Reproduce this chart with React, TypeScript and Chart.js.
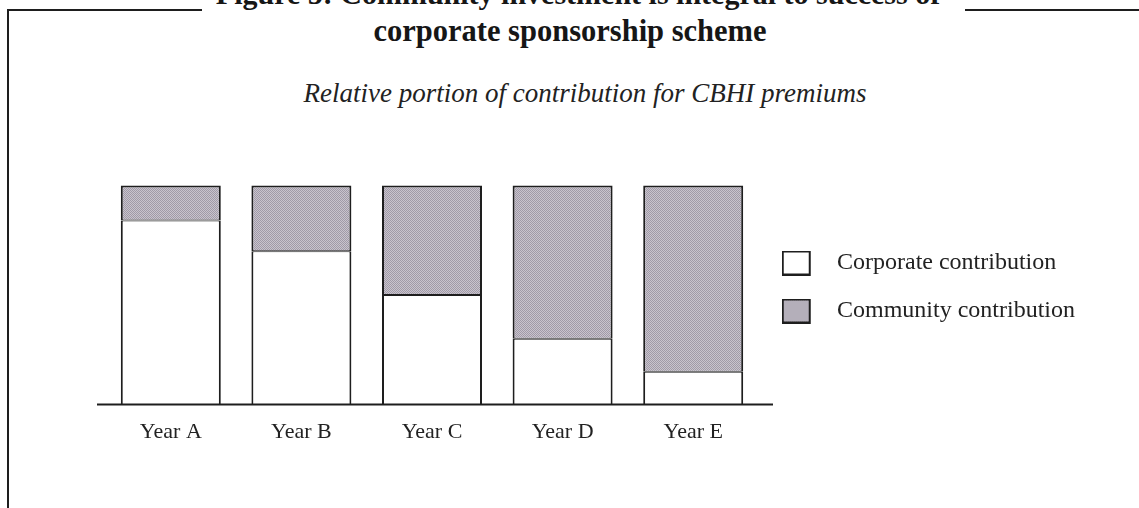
import React, { useEffect, useRef } from 'react';
import { Chart, registerables } from 'chart.js';

Chart.register(...registerables);

// ---- data ----
const categories = ['Year A', 'Year B', 'Year C', 'Year D', 'Year E'];
const corporateShare = [84, 70, 50, 30, 15];
const communityShare = [16, 30, 50, 70, 85];
const seriesLabels = ['Corporate contribution', 'Community contribution'];
const titleLines = [
  'Figure 5: Community investment is integral to success of',
  'corporate sponsorship scheme',
];
const subtitleText = 'Relative portion of contribution for CBHI premiums';
const Y_MAX = 107.3;

// ---- layout / style ----
const W = 1139;
const H = 508;
const INK = '#1e1e1e';
const SERIF = '"Liberation Serif", "Times New Roman", serif';
const LEGEND_FONT = 24;
const LEGEND_PAD = 24;
const LEGEND_BOXW = 42.5;
const AREA_LEFT = 105.5;
const AREA_RIGHT = 758.5;

function makePatternCanvas(): HTMLCanvasElement {
  const c = document.createElement('canvas');
  c.width = 2;
  c.height = 2;
  const g = c.getContext('2d')!;
  g.fillStyle = '#c9c4cd';
  g.fillRect(0, 0, 2, 2);
  g.fillStyle = '#a09aa7';
  g.fillRect(0, 0, 1, 1);
  g.fillRect(1, 1, 1, 1);
  return c;
}

function makeSwatch(patternCanvas: HTMLCanvasElement | null): HTMLCanvasElement {
  const c = document.createElement('canvas');
  c.width = 44;
  c.height = 25;
  const g = c.getContext('2d')!;
  g.fillStyle = INK;
  g.fillRect(0, 0, 29, 25);
  if (patternCanvas) {
    g.fillStyle = g.createPattern(patternCanvas, 'repeat') as CanvasPattern;
  } else {
    g.fillStyle = '#ffffff';
  }
  g.fillRect(2, 2, 25, 21);
  return c;
}

const baseLinePlugin = {
  id: 'baseLine',
  afterDatasetsDraw(chart: any) {
    const { ctx, chartArea, scales } = chart;
    const y = scales.y.getPixelForValue(0);
    ctx.save();
    ctx.strokeStyle = INK;
    ctx.lineWidth = 2;
    ctx.beginPath();
    ctx.moveTo(chartArea.left - 8.5, y);
    ctx.lineTo(chartArea.right + 14.5, y);
    ctx.stroke();
    ctx.restore();
  },
};

export default function App() {
  const canvasRef = useRef<HTMLCanvasElement | null>(null);

  useEffect(() => {
    const canvas = canvasRef.current;
    if (!canvas) return;
    const ctx = canvas.getContext('2d')!;
    const patternCanvas = makePatternCanvas();
    const pattern = ctx.createPattern(patternCanvas, 'repeat') as CanvasPattern;
    const swatches = [makeSwatch(null), makeSwatch(patternCanvas)];

    const m = document.createElement('canvas').getContext('2d')!;
    m.font = `${LEGEND_FONT}px ${SERIF}`;
    const textW = Math.max(...seriesLabels.map((s) => m.measureText(s).width));
    const legendWidth = LEGEND_PAD + LEGEND_BOXW + LEGEND_FONT / 2 + textW + 10;
    const padRight = W - AREA_RIGHT - legendWidth;

    const chart = new Chart(canvas, {
      type: 'bar',
      data: {
        labels: categories,
        datasets: [
          {
            label: seriesLabels[0],
            data: corporateShare,
            backgroundColor: '#ffffff',
            borderColor: INK,
            borderWidth: { top: 1, left: 2, right: 2, bottom: 0 },
            borderSkipped: false,
            barPercentage: 100 / 130.6,
            categoryPercentage: 1,
          },
          {
            label: seriesLabels[1],
            data: communityShare,
            backgroundColor: pattern,
            borderColor: INK,
            borderWidth: { top: 2, left: 2, right: 2, bottom: 1 },
            borderSkipped: false,
            barPercentage: 100 / 130.6,
            categoryPercentage: 1,
          },
        ],
      },
      options: {
        responsive: false,
        devicePixelRatio: 1,
        animation: false,
        layout: {
          padding: { left: AREA_LEFT, top: 169.5, bottom: 47.1, right: padRight },
        },
        scales: {
          x: {
            stacked: true,
            grid: { display: false, drawTicks: false },
            border: { display: false },
            ticks: {
              color: '#222',
              font: { family: SERIF, size: 22 },
              padding: 15,
              maxRotation: 0,
              autoSkip: false,
            },
          },
          y: {
            stacked: true,
            display: false,
            min: 0,
            max: Y_MAX,
          },
        },
        plugins: {
          tooltip: { enabled: false },
          title: { display: false },
          legend: {
            display: true,
            position: 'right',
            fullSize: false,
            align: 'center',
            labels: {
              color: '#222',
              font: { family: SERIF, size: LEGEND_FONT },
              usePointStyle: true,
              pointStyleWidth: LEGEND_BOXW,
              padding: LEGEND_PAD,
              generateLabels: (ch: any) => {
                const items = Chart.defaults.plugins.legend.labels.generateLabels(ch);
                return items.map((it: any, i: number) => ({
                  ...it,
                  pointStyle: swatches[i],
                  fontColor: '#222',
                }));
              },
            },
          },
        },
      },
      plugins: [baseLinePlugin],
    } as any);

    return () => {
      chart.destroy();
    };
  }, []);

  const textBase: React.CSSProperties = {
    position: 'absolute',
    width: 1000,
    textAlign: 'center',
    lineHeight: 1,
    whiteSpace: 'nowrap',
    color: '#161616',
    fontFamily: SERIF,
    margin: 0,
  };

  return (
    <div
      style={{
        position: 'absolute',
        left: 0,
        top: 0,
        width: W,
        height: H,
        overflow: 'hidden',
        background: '#ffffff',
      }}
    >
      <div style={{ ...textBase, left: 578 - 500, top: 4 - 30 * 0.8375, fontSize: 30, fontWeight: 'bold' }}>
        {titleLines[0]}
      </div>
      <div style={{ ...textBase, left: 570 - 500, top: 41 - 30 * 0.8375, fontSize: 30.5, fontWeight: 'bold' }}>
        {titleLines[1]}
      </div>
      <div style={{ ...textBase, left: 585 - 500, top: 103 - 27 * 0.8375, fontSize: 27, fontStyle: 'italic', color: '#222' }}>
        {subtitleText}
      </div>
      <div style={{ position: 'absolute', left: 7, top: 9, width: 195, height: 2, background: INK }} />
      <div style={{ position: 'absolute', left: 965, top: 9, width: 174, height: 2, background: INK }} />
      <div style={{ position: 'absolute', left: 7, top: 9, width: 2, height: H - 9, background: INK }} />
      <canvas
        ref={canvasRef}
        width={W}
        height={H}
        style={{ position: 'absolute', left: 0, top: 0, width: W, height: H }}
      />
    </div>
  );
}
